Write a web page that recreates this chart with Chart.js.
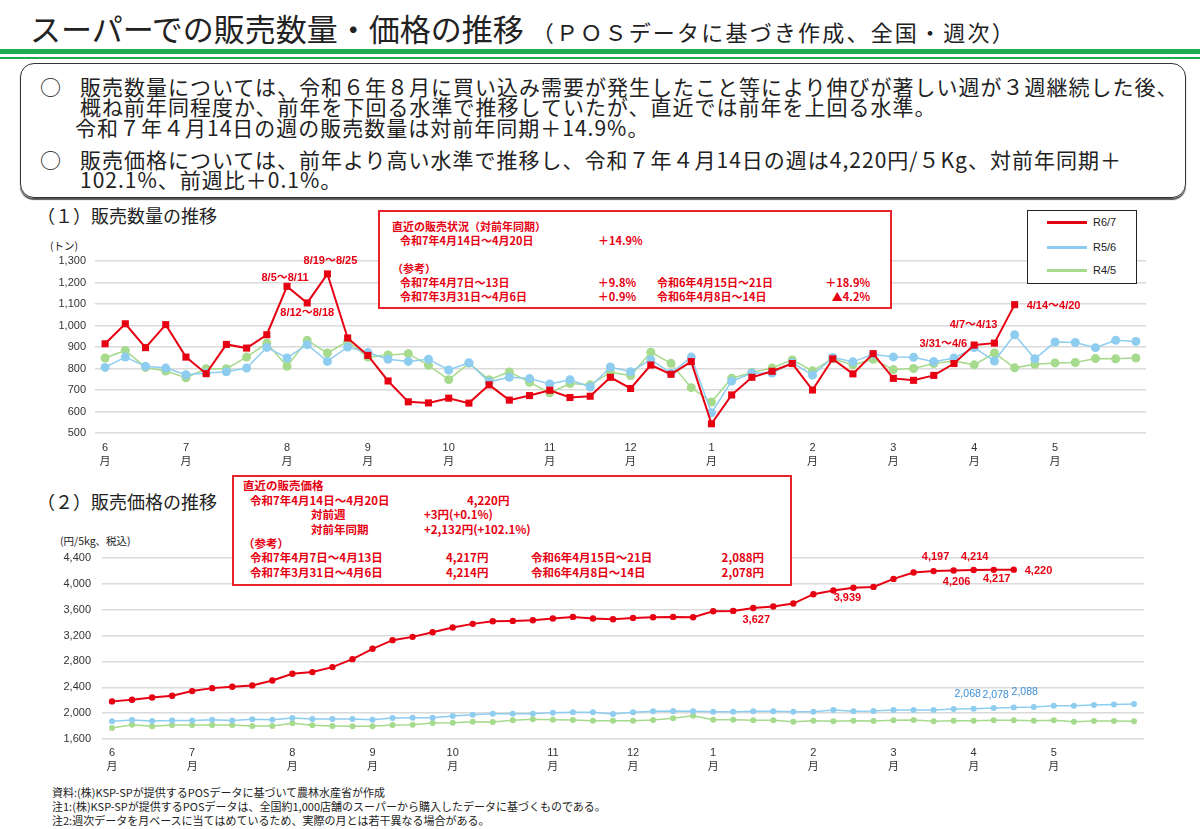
<!DOCTYPE html>
<html lang="ja">
<head>
<meta charset="utf-8">
<title>スーパーでの販売数量・価格の推移</title>
<script src="https://cdn.jsdelivr.net/npm/chart.js@4.4.1/dist/chart.umd.min.js"></script>
<style>
  body { margin: 0; width: 1200px; height: 829px; overflow: hidden; background: #fff;
         font-family: "Noto Sans CJK JP", sans-serif; color: #222; position: relative; }
  .abs { position: absolute; white-space: nowrap; }
  .mid { transform: translateY(-50%); line-height: 1; }
  .title { left: 30px; top: 27px; font-size: 31px; }
  .title small { font-size: 22px; letter-spacing: 2.2px; margin-left: 8px; }
  .bar1 { left: 0; top: 49px; width: 1200px; height: 5px; background: #1fab4f; }
  .bar2 { left: 0; top: 57px; width: 1200px; height: 2px; background: #1fab4f; }
  .summary { left: 20px; top: 63px; width: 1164px; height: 133px; border: 1.5px solid #333;
             border-radius: 14px; box-shadow: 0 2px 1px #555; }
  .sum { font-size: 21px; letter-spacing: 1px; color: #222; }
  .head { font-size: 18px; color: #222; }
  .unit { font-size: 10.5px; color: #222; }
  .note { font-size: 11px; color: #222; }
  .chartbox { position: absolute; }
  .info { border: 2px solid #e8232b; background: #fff; z-index: 2; }
  .info span { position: absolute; white-space: nowrap; transform: translateY(-50%); line-height: 1;
               font-weight: bold; color: #e60012; }
  .legend { left: 1027px; top: 210px; width: 108px; height: 72px; border: 1.5px solid #222;
            background: #fff; z-index: 2; }
  .legend div { position: absolute; left: 19px; height: 3px; width: 40px; }
  .legend span { position: absolute; left: 65px; font-size: 11px; line-height: 1; transform: translateY(-50%);
                 font-family: "Liberation Sans", sans-serif; color: #222; }
</style>
</head>
<body>

<div class="abs mid title">スーパーでの販売数量・価格の推移<small>（ＰＯＳデータに基づき作成、全国・週次）</small></div>
<div class="abs bar1"></div>
<div class="abs bar2"></div>

<div class="abs summary"></div>
<div class="abs mid sum" style="left:40px;top:86px;">○</div>
<div class="abs mid sum" style="left:80px;top:86px;">販売数量については、令和６年８月に買い込み需要が発生したこと等により伸びが著しい週が３週継続した後、</div>
<div class="abs mid sum" style="left:80px;top:106px;">概ね前年同程度か、前年を下回る水準で推移していたが、直近では前年を上回る水準。</div>
<div class="abs mid sum" style="left:75px;top:127px;">令和７年４月14日の週の販売数量は対前年同期＋14.9%。</div>
<div class="abs mid sum" style="left:40px;top:159px;">○</div>
<div class="abs mid sum" style="left:80px;top:159px;">販売価格については、前年より高い水準で推移し、令和７年４月14日の週は4,220円/５Kg、対前年同期＋</div>
<div class="abs mid sum" style="left:80px;top:179px;">102.1%、前週比＋0.1%。</div>

<div class="abs mid head" style="left:37px;top:215px;">（１）販売数量の推移</div>
<div class="abs mid unit" style="left:50px;top:246px;">(トン)</div>
<div class="chartbox" style="left:20px;top:235px;width:1150px;height:235px;"><canvas id="qtyChart"></canvas></div>

<div class="abs info" style="left:378px;top:210px;width:510px;height:95px;">
  <span style="left:12px;top:14px;font-size:11px;">直近の販売状況（対前年同期）</span>
  <span style="left:20px;top:28px;font-size:11px;">令和7年4月14日～4月20日</span>
  <span style="left:218px;top:28px;font-size:11px;">＋14.9%</span>
  <span style="left:12px;top:56px;font-size:11px;">（参考）</span>
  <span style="left:20px;top:70px;font-size:11px;">令和7年4月7日～13日</span>
  <span style="right:254px;top:70px;font-size:11px;">＋9.8%</span>
  <span style="left:277px;top:70px;font-size:11px;">令和6年4月15日～21日</span>
  <span style="right:20px;top:70px;font-size:11px;">＋18.9%</span>
  <span style="left:20px;top:84px;font-size:11px;">令和7年3月31日～4月6日</span>
  <span style="right:254px;top:84px;font-size:11px;">＋0.9%</span>
  <span style="left:277px;top:84px;font-size:11px;">令和6年4月8日～14日</span>
  <span style="right:20px;top:84px;font-size:11px;">▲4.2%</span>
</div>

<div class="abs legend" id="legend"></div>

<div class="abs mid head" style="left:37px;top:501px;">（２）販売価格の推移</div>
<div class="abs mid unit" style="left:60px;top:541px;">(円/5kg、税込)</div>
<div class="chartbox" style="left:20px;top:530px;width:1150px;height:245px;"><canvas id="priceChart"></canvas></div>

<div class="abs info" style="left:232px;top:475px;width:556px;height:107px;">
  <span style="left:9px;top:9px;font-size:11.5px;">直近の販売価格</span>
  <span style="left:16px;top:24px;font-size:11.5px;">令和7年4月14日～4月20日</span>
  <span style="left:233px;top:24px;font-size:11.5px;">4,220円</span>
  <span style="left:77px;top:38px;font-size:11.5px;">対前週</span>
  <span style="left:190px;top:38px;font-size:11.5px;">+3円(+0.1%)</span>
  <span style="left:77px;top:53px;font-size:11.5px;">対前年同期</span>
  <span style="left:190px;top:53px;font-size:11.5px;">+2,132円(+102.1%)</span>
  <span style="left:9px;top:67px;font-size:11.5px;">（参考）</span>
  <span style="left:16px;top:81px;font-size:11.5px;">令和7年4月7日～4月13日</span>
  <span style="left:212px;top:81px;font-size:11.5px;">4,217円</span>
  <span style="left:297px;top:81px;font-size:11.5px;">令和6年4月15日～21日</span>
  <span style="right:26px;top:81px;font-size:11.5px;">2,088円</span>
  <span style="left:16px;top:96px;font-size:11.5px;">令和7年3月31日～4月6日</span>
  <span style="left:212px;top:96px;font-size:11.5px;">4,214円</span>
  <span style="left:297px;top:96px;font-size:11.5px;">令和6年4月8日～14日</span>
  <span style="right:26px;top:96px;font-size:11.5px;">2,078円</span>
</div>

<div class="abs mid note" style="left:52px;top:792px;">資料:(株)KSP-SPが提供するPOSデータに基づいて農林水産省が作成</div>
<div class="abs mid note" style="left:52px;top:806px;">注1:(株)KSP-SPが提供するPOSデータは、全国約1,000店舗のスーパーから購入したデータに基づくものである。</div>
<div class="abs mid note" style="left:52px;top:820px;">注2:週次データを月ベースに当てはめているため、実際の月とは若干異なる場合がある。</div>

<script>
// ---- data ----
const seriesNames = ['R6/7', 'R5/6', 'R4/5'];

// month tick positions along the 52 weekly categories (week starting 6/3)
const monthTickIdx = [0, 4, 9, 13, 17, 22, 26, 30, 35, 39, 43, 47];
const monthNames = ['6', '7', '8', '9', '10', '11', '12', '1', '2', '3', '4', '5'];

// sales volume (tons)
const qtyR67 = [915, 1008, 897, 1004, 853, 776, 912, 895, 957, 1182, 1105, 1240, 942, 861, 742, 645,
  640, 662, 639, 724, 653, 674, 699, 665, 671, 759, 707, 816, 773, 832, 543, 677, 759, 787, 823,
  700, 845, 775, 869, 754, 745, 768, 823, 909, 918, 1097];
const qtyR56 = [805, 853, 810, 802, 771, 779, 785, 802, 898, 849, 911, 833, 900, 874, 843, 833,
  843, 793, 827, 738, 759, 753, 728, 748, 714, 807, 785, 841, 778, 853, 594, 741, 779, 779, 827,
  769, 851, 831, 866, 854, 852, 832, 849, 897, 835, 957, 845, 923, 921, 897, 931, 926];
const qtyR45 = [849, 884, 805, 788, 757, 799, 799, 853, 917, 810, 931, 872, 926, 853, 863, 869,
  815, 748, 824, 748, 784, 736, 687, 730, 724, 782, 767, 876, 824, 711, 644, 755, 782, 802, 840,
  789, 846, 817, 843, 795, 800, 823, 835, 817, 872, 803, 820, 826, 828, 846, 845, 849];

// sales price (yen / 5kg, tax incl.)
const priceR67 = [2182, 2207, 2243, 2269, 2341, 2387, 2408, 2429, 2506, 2609, 2635, 2712, 2835, 2995, 3129, 3180,
  3252, 3324, 3381, 3422, 3427, 3437, 3463, 3489, 3463, 3453, 3473, 3484, 3489, 3484, 3577, 3582, 3627, 3649, 3695, 3840,
  3897, 3939, 3953, 4077, 4175, 4197, 4206, 4214, 4217, 4220];
const priceR56 = [1873, 1893, 1878, 1888, 1888, 1899, 1888, 1904, 1899, 1924, 1909, 1909, 1909, 1899, 1924, 1929,
  1930, 1956, 1977, 1992, 1992, 1992, 2008, 2013, 2013, 1987, 2013, 2028, 2034, 2028, 2023, 2023, 2028, 2028, 2023, 2023,
  2049, 2028, 2034, 2049, 2049, 2049, 2064, 2068, 2078, 2088, 2095, 2116, 2116, 2126, 2132, 2142];
const priceR45 = [1770, 1821, 1796, 1816, 1816, 1816, 1816, 1801, 1801, 1842, 1811, 1801, 1796, 1796, 1816, 1821,
  1848, 1853, 1868, 1863, 1889, 1904, 1899, 1894, 1884, 1884, 1884, 1894, 1920, 1961, 1899, 1899, 1889, 1889, 1868, 1882,
  1874, 1884, 1879, 1889, 1894, 1874, 1884, 1884, 1889, 1889, 1884, 1889, 1868, 1879, 1879, 1874];

// annotated weeks
const qtyNoteWeeks = [9, 10, 11, 43, 44, 45];
const qtyNoteText = ['8/5～8/11', '8/12～8/18', '8/19～8/25', '3/31～4/6', '4/7～4/13', '4/14～4/20'];
const priceNoteWeeksR67 = [32, 37, 41, 42, 43, 44, 45];
const priceNoteWeeksR56 = [43, 44, 45];

// ---- styling ----
const COLORS = { red: '#e60012', blue: '#8ecdf0', green: '#a6da8c', grid: '#dadada', text: '#333' };
const NUM_FONT = '"Liberation Sans", "Noto Sans CJK JP", sans-serif';

// week category labels: week start dates from 2024-06-03
const weekLabels = [];
for (let i = 0; i < qtyR56.length; i++) {
  const d = new Date(2024, 5, 3 + 7 * i);
  weekLabels.push((d.getMonth() + 1) + '/' + d.getDate());
}

document.getElementById('legend').innerHTML = seriesNames.map((name, i) => {
  const c = [COLORS.red, COLORS.blue, COLORS.green][i];
  const y = [11, 36, 59][i];
  return `<div style="top:${y - 1}px;background:${c}"></div><span style="top:${y}px">${name}</span>`;
}).join('');

// draws text next to chosen points
function notesPlugin(id, items) {
  return {
    id: id,
    afterDatasetsDraw(chart) {
      const ctx = chart.ctx;
      items.forEach(n => {
        const pt = chart.getDatasetMeta(n.ds).data[n.idx];
        if (!pt) return;
        ctx.save();
        ctx.font = n.font;
        ctx.fillStyle = n.color;
        ctx.textAlign = n.align;
        ctx.textBaseline = 'middle';
        ctx.fillText(n.text, pt.x + n.dx, pt.y + n.dy);
        ctx.restore();
      });
    }
  };
}

function xAxis(height, pad) {
  return {
    type: 'category',
    offset: true,
    grid: { display: false, drawTicks: false },
    border: { display: false },
    ticks: {
      autoSkip: false, maxRotation: 0, padding: pad, color: COLORS.text,
      font: { family: NUM_FONT, size: 11, lineHeight: 1.25 },
      callback: (v, i) => {
        const k = monthTickIdx.indexOf(i);
        return k >= 0 ? [monthNames[k], '月'] : '';
      }
    },
    afterFit: s => { s.height = height; }
  };
}

function yAxis(min, max, step, width, pad) {
  return {
    min: min, max: max,
    grid: { color: COLORS.grid, lineWidth: 1.5, drawTicks: false },
    border: { display: false },
    ticks: {
      stepSize: step, padding: pad, color: COLORS.text,
      font: { family: NUM_FONT, size: 11 },
      callback: v => v.toLocaleString('en-US')
    },
    afterFit: s => { s.width = width; }
  };
}

function lineSet(label, data, color, width, style, radius) {
  return {
    label: label, data: data,
    borderColor: color, backgroundColor: color, pointBackgroundColor: color, pointBorderColor: color,
    borderWidth: width, pointStyle: style, pointRadius: radius, pointBorderWidth: 0,
    tension: 0, fill: false
  };
}

// ---- (1) sales volume ----
const qtyLayout = [
  { dx: -2, dy: -8, align: 'center' },
  { dx: 0, dy: 10, align: 'center' },
  { dx: 3, dy: -13, align: 'center' },
  { dx: -7, dy: -1, align: 'right' },
  { dx: 3, dy: -18, align: 'right' },
  { dx: 12, dy: 1, align: 'left' }
];
const qtyNotes = qtyNoteWeeks.map((w, k) => Object.assign({
  ds: 0, idx: w, text: qtyNoteText[k], color: COLORS.red, font: 'bold 11px ' + NUM_FONT
}, qtyLayout[k]));

new Chart(document.getElementById('qtyChart'), {
  type: 'line',
  data: {
    labels: weekLabels,
    datasets: [
      lineSet(seriesNames[0], qtyR67, COLORS.red, 2, 'rect', 5),
      lineSet(seriesNames[1], qtyR56, COLORS.blue, 1.5, 'circle', 4.5),
      lineSet(seriesNames[2], qtyR45, COLORS.green, 1.5, 'circle', 4.5)
    ]
  },
  options: {
    responsive: true, maintainAspectRatio: false, animation: false,
    layout: { padding: { top: 26, right: 24, left: 0, bottom: 0 } },
    plugins: { legend: { display: false }, tooltip: { enabled: false } },
    scales: { x: xAxis(37, 8), y: yAxis(500, 1300, 100, 75, 9) }
  },
  plugins: [notesPlugin('qtyNotes', qtyNotes)]
});

// ---- (2) sales price ----
const priceLayoutR67 = [
  { dx: 3, dy: 12, align: 'center' },
  { dx: -6, dy: 10, align: 'center' },
  { dx: 2, dy: -14, align: 'center' },
  { dx: 3, dy: 11, align: 'center' },
  { dx: 1, dy: -13, align: 'center' },
  { dx: 3, dy: 9, align: 'center' },
  { dx: 11, dy: 1, align: 'left' }
];
const priceLayoutR56 = [
  { dx: -6, dy: -15, align: 'center' },
  { dx: 2, dy: -13, align: 'center' },
  { dx: 11, dy: -15, align: 'center' }
];
const priceNotes = priceNoteWeeksR67.map((w, k) => Object.assign({
  ds: 0, idx: w, text: priceR67[w].toLocaleString('en-US'), color: COLORS.red, font: 'bold 11px ' + NUM_FONT
}, priceLayoutR67[k])).concat(priceNoteWeeksR56.map((w, k) => Object.assign({
  ds: 1, idx: w, text: priceR56[w].toLocaleString('en-US'), color: '#3d8fd6', font: '10.5px ' + NUM_FONT
}, priceLayoutR56[k])));

new Chart(document.getElementById('priceChart'), {
  type: 'line',
  data: {
    labels: weekLabels,
    datasets: [
      lineSet(seriesNames[0], priceR67, COLORS.red, 2, 'circle', 3.2),
      lineSet(seriesNames[1], priceR56, COLORS.blue, 1.5, 'circle', 3),
      lineSet(seriesNames[2], priceR45, COLORS.green, 1.5, 'circle', 3)
    ]
  },
  options: {
    responsive: true, maintainAspectRatio: false, animation: false,
    layout: { padding: { top: 28, right: 26, left: 0, bottom: 0 } },
    plugins: { legend: { display: false }, tooltip: { enabled: false } },
    scales: { x: xAxis(36, 7), y: yAxis(1600, 4400, 400, 82, 11) }
  },
  plugins: [notesPlugin('priceNotes', priceNotes)]
});
</script>
</body>
</html>
